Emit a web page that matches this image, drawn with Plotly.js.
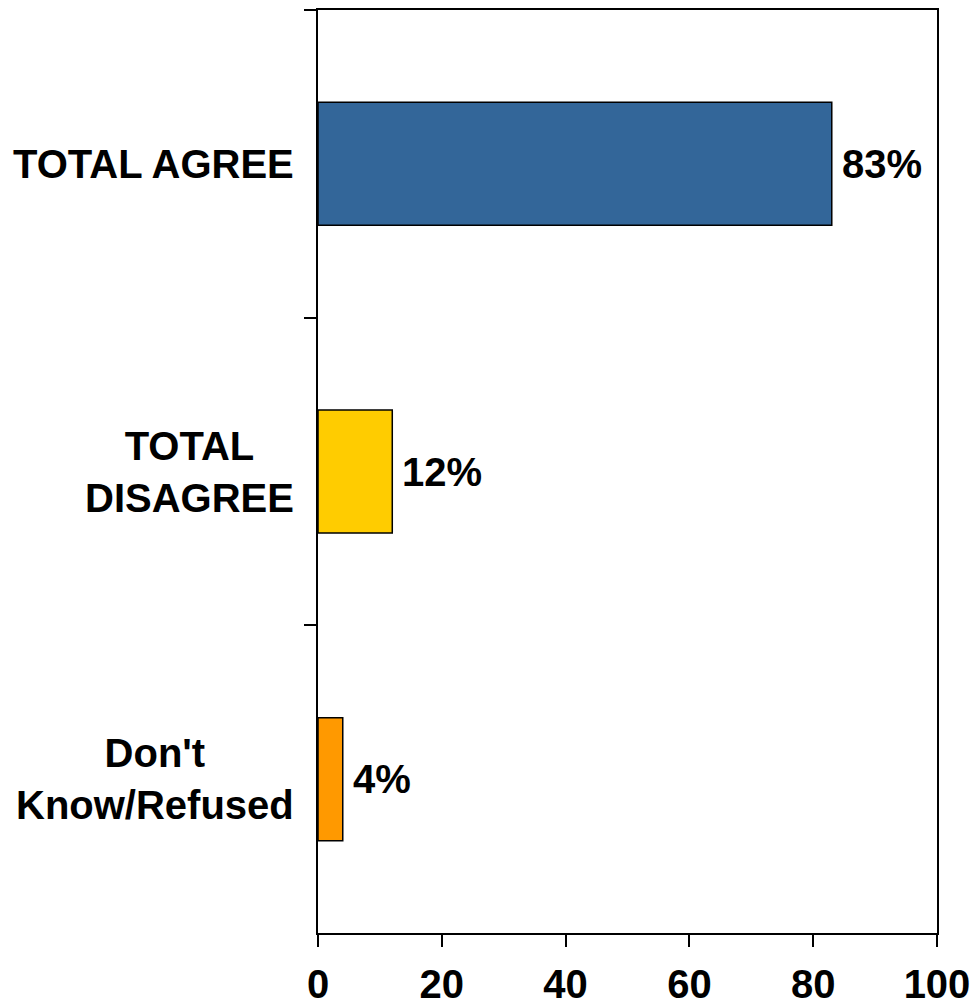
<!DOCTYPE html>
<html>
<head>
<meta charset="utf-8">
<script src="https://cdn.plot.ly/plotly-3.0.1.min.js"></script>
<style>html,body{margin:0;padding:0;background:#fff;}</style>
</head>
<body>
<div id="chart" style="width:977px;height:1008px;"></div>
<script>
const categories = ["TOTAL AGREE", "TOTAL DISAGREE", "Don't Know/Refused"];
const categoryLabels = ["TOTAL AGREE", "TOTAL<br>DISAGREE", "Don't<br>Know/Refused"];
const values = [83, 12, 4];
const valueLabels = ["83%", "12%", "4%"];
const barColors = ["#336699", "#FFCC00", "#FF9900"];
const xTicks = [0, 20, 40, 60, 80, 100];

const FONT = "Liberation Sans, Arial, Helvetica, sans-serif";

const trace = {
  type: "bar",
  orientation: "h",
  x: values,
  y: categories,
  width: 0.4,
  marker: {color: barColors, line: {color: "#000", width: 1.5}},
  hoverinfo: "none"
};

const annotations = [];
categories.forEach((c, i) => {
  annotations.push({
    xref: "paper", yref: "y", x: 0, y: c,
    xanchor: "right", yanchor: "middle", align: "center",
    xshift: -22,
    text: categoryLabels[i], showarrow: false,
    font: {family: FONT, size: 40, color: "#000", weight: 700}
  });
  annotations.push({
    xref: "x", yref: "y", x: values[i], y: c,
    xanchor: "left", yanchor: "middle",
    xshift: 8,
    text: valueLabels[i], showarrow: false,
    font: {family: FONT, size: 40, color: "#000", weight: 700}
  });
});

const layout = {
  width: 977, height: 1008,
  margin: {l: 318, r: 40, t: 10, b: 75, pad: 0},
  paper_bgcolor: "#fff", plot_bgcolor: "#fff",
  showlegend: false,
  font: {family: FONT, color: "#000"},
  xaxis: {
    range: [0, 100], tickvals: xTicks, ticktext: xTicks.map(String),
    showgrid: false, zeroline: false,
    showline: true, linecolor: "#000", linewidth: 2, mirror: true,
    ticks: "outside", ticklen: 12, tickwidth: 2, tickcolor: "#000",
    ticklabelstandoff: 3,
    tickfont: {family: FONT, size: 40, color: "#000", weight: 700},
    fixedrange: true
  },
  yaxis: {
    type: "category", categoryorder: "array", categoryarray: categories,
    range: [2.5, -0.5],
    showgrid: false, zeroline: false,
    showline: true, linecolor: "#000", linewidth: 2, mirror: true,
    ticks: "outside", ticklen: 12, tickwidth: 2, tickcolor: "#000",
    tickson: "boundaries", showticklabels: false,
    fixedrange: true
  },
  annotations: annotations
};

Plotly.newPlot("chart", [trace], layout, {displayModeBar: false, staticPlot: true});
</script>
</body>
</html>
